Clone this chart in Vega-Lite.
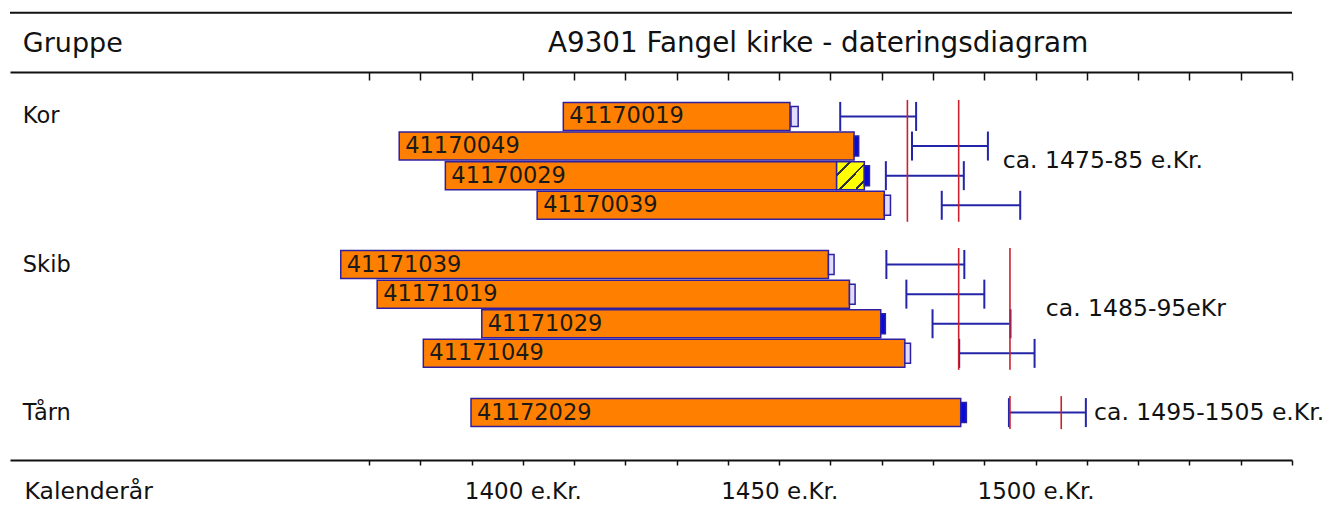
{
  "$schema": "https://vega.github.io/schema/vega-lite/v6.json",
  "width": 1282,
  "height": 388,
  "autosize": {"type": "none"},
  "padding": {"left": 10, "top": 72, "right": 39, "bottom": 55},
  "background": "white",
  "config": {"view": {"stroke": null}, "text": {"font": "DejaVu Sans"}},
  "datasets": {
    "samples": [
      {"id": "41170019", "group": "Kor", "row": 0, "start": 1407.9, "end": 1452.1, "sap": null, "capStart": 1452.3, "capEnd": 1453.7, "cap": "open", "lo": 1461.9, "hi": 1476.7},
      {"id": "41170049", "group": "Kor", "row": 1, "start": 1375.9, "end": 1464.6, "sap": null, "capStart": 1464.6, "capEnd": 1465.5, "cap": "solid", "lo": 1475.9, "hi": 1490.7},
      {"id": "41170029", "group": "Kor", "row": 2, "start": 1384.9, "end": 1461.2, "sap": 1466.6, "capStart": 1466.6, "capEnd": 1467.6, "cap": "solid", "lo": 1470.8, "hi": 1486.0},
      {"id": "41170039", "group": "Kor", "row": 3, "start": 1402.8, "end": 1470.5, "sap": null, "capStart": 1470.5, "capEnd": 1471.7, "cap": "open", "lo": 1481.7, "hi": 1497.0},
      {"id": "41171039", "group": "Skib", "row": 5, "start": 1364.5, "end": 1459.6, "sap": null, "capStart": 1459.6, "capEnd": 1460.7, "cap": "open", "lo": 1470.9, "hi": 1486.1},
      {"id": "41171019", "group": "Skib", "row": 6, "start": 1371.6, "end": 1463.7, "sap": null, "capStart": 1463.7, "capEnd": 1464.8, "cap": "open", "lo": 1474.8, "hi": 1490.0},
      {"id": "41171029", "group": "Skib", "row": 7, "start": 1392.0, "end": 1469.8, "sap": null, "capStart": 1469.8, "capEnd": 1470.7, "cap": "solid", "lo": 1479.9, "hi": 1495.1},
      {"id": "41171049", "group": "Skib", "row": 8, "start": 1380.6, "end": 1474.5, "sap": null, "capStart": 1474.5, "capEnd": 1475.6, "cap": "open", "lo": 1485.1, "hi": 1499.8},
      {"id": "41172029", "group": "Tårn", "row": 10, "start": 1389.9, "end": 1485.4, "sap": null, "capStart": 1485.4, "capEnd": 1486.5, "cap": "solid", "lo": 1494.8, "hi": 1509.8}
    ],
    "redlines": [
      {"group": "Kor", "year": 1475, "first": 0, "last": 3},
      {"group": "Kor", "year": 1485, "first": 0, "last": 3},
      {"group": "Skib", "year": 1485, "first": 5, "last": 8},
      {"group": "Skib", "year": 1495, "first": 5, "last": 8},
      {"group": "Tårn", "year": 1495, "first": 10, "last": 10},
      {"group": "Tårn", "year": 1505, "first": 10, "last": 10}
    ],
    "groups": [
      {"group": "Kor", "row": 0},
      {"group": "Skib", "row": 5},
      {"group": "Tårn", "row": 10}
    ],
    "annotations": [
      {"text": "ca. 1475-85 e.Kr.", "year": 1493.6, "row": 1.5},
      {"text": "ca. 1485-95eKr", "year": 1502.0, "row": 6.5},
      {"text": "ca. 1495-1505 e.Kr.", "year": 1511.4, "row": 10}
    ],
    "header": [
      {"text": "Gruppe", "year": 1302.5, "row": -2.45, "size": "small"},
      {"text": "A9301 Fangel kirke - dateringsdiagram", "year": 1404.9, "row": -2.45, "size": "large"}
    ]
  },
  "resolve": {"axis": {"x": "independent"}},
  "layer": [
    {
      "data": {"name": "samples"},
      "mark": {"type": "rect", "yOffset": -14, "y2Offset": 14, "fill": "#ff8000", "stroke": "#3020a0", "strokeWidth": 1.5},
      "encoding": {
        "x": {"field": "start", "type": "quantitative",
          "scale": {"domain": [1300, 1550], "nice": false, "zero": false},
          "axis": {"orient": "bottom", "values": [1370, 1380, 1390, 1400, 1410, 1420, 1430, 1440, 1450, 1460, 1470, 1480, 1490, 1500, 1510, 1520, 1530, 1540, 1550],
            "grid": false, "domainColor": "#111", "domainWidth": 2, "tickColor": "#111", "tickWidth": 1.5, "tickSize": 5,
            "labelExpr": "(datum.value == 1400 || datum.value == 1450 || datum.value == 1500) ? datum.value + ' e.Kr.' : ''",
            "labelFont": "DejaVu Sans", "labelFontSize": 23, "labelColor": "#111", "labelPadding": 26, "labelBaseline": "middle", "labelOverlap": false, "labelFlush": false,
            "title": "Kalenderår", "titleX": 14, "titleY": 31, "titleAlign": "left", "titleAnchor": "start", "titleBaseline": "middle", "titleAngle": 0,
            "titleFont": "DejaVu Sans", "titleFontSize": 23.5, "titleFontWeight": "normal", "titleColor": "#111"}},
        "x2": {"field": "end"},
        "y": {"field": "row", "type": "quantitative", "scale": {"domain": [-1.5, 11.6], "reverse": true, "nice": false, "zero": false}, "axis": null},
        "y2": {"field": "row"}
      }
    },
    {
      "data": {"name": "samples"},
      "transform": [{"filter": "datum.sap != null"}],
      "mark": {"type": "rect", "yOffset": -14, "y2Offset": 14, "stroke": "#3020a0", "strokeWidth": 1.5,
        "fill": {"gradient": "linear", "x1": 0, "y1": 0, "x2": 1, "y2": 1, "stops": [
          {"offset": 0, "color": "#ffff00"}, {"offset": 0.22, "color": "#ffff00"}, {"offset": 0.22, "color": "#333"}, {"offset": 0.27, "color": "#333"}, {"offset": 0.27, "color": "#ffff00"},
          {"offset": 0.52, "color": "#ffff00"}, {"offset": 0.52, "color": "#333"}, {"offset": 0.57, "color": "#333"}, {"offset": 0.57, "color": "#ffff00"},
          {"offset": 0.82, "color": "#ffff00"}, {"offset": 0.82, "color": "#333"}, {"offset": 0.87, "color": "#333"}, {"offset": 0.87, "color": "#ffff00"}, {"offset": 1, "color": "#ffff00"}]}},
      "encoding": {
        "x": {"field": "end", "type": "quantitative", "scale": {"domain": [1300, 1550], "nice": false, "zero": false}, "axis": null},
        "x2": {"field": "sap"},
        "y": {"field": "row", "type": "quantitative", "scale": {"domain": [-1.5, 11.6], "reverse": true, "nice": false, "zero": false}, "axis": null},
        "y2": {"field": "row"}
      }
    },
    {
      "data": {"name": "samples"},
      "mark": {"type": "rect", "yOffset": -10, "y2Offset": 10, "stroke": "#2a22a0", "strokeWidth": 1.5},
      "encoding": {
        "x": {"field": "capStart", "type": "quantitative", "scale": {"domain": [1300, 1550], "nice": false, "zero": false}, "axis": null},
        "x2": {"field": "capEnd"},
        "y": {"field": "row", "type": "quantitative", "scale": {"domain": [-1.5, 11.6], "reverse": true, "nice": false, "zero": false}, "axis": null},
        "y2": {"field": "row"},
        "fill": {"field": "cap", "type": "nominal", "scale": {"domain": ["solid", "open"], "range": ["#0a0ad8", "#e4dcff"]}, "legend": null}
      }
    },
    {
      "data": {"name": "samples"},
      "mark": {"type": "text", "align": "left", "baseline": "middle", "dx": 6, "font": "DejaVu Sans", "fontSize": 22.5, "color": "#1a1a1a"},
      "encoding": {
        "x": {"field": "start", "type": "quantitative", "scale": {"domain": [1300, 1550], "nice": false, "zero": false}, "axis": null},
        "y": {"field": "row", "type": "quantitative", "scale": {"domain": [-1.5, 11.6], "reverse": true, "nice": false, "zero": false}, "axis": null},
        "text": {"field": "id"}
      }
    },
    {
      "data": {"name": "samples"},
      "mark": {"type": "rule", "color": "#2424a8", "strokeWidth": 2},
      "encoding": {
        "x": {"field": "lo", "type": "quantitative", "scale": {"domain": [1300, 1550], "nice": false, "zero": false},
          "axis": {"orient": "top", "values": [1370, 1380, 1390, 1400, 1410, 1420, 1430, 1440, 1450, 1460, 1470, 1480, 1490, 1500, 1510, 1520, 1530, 1540, 1550],
            "grid": false, "domainColor": "#111", "domainWidth": 2, "tickColor": "#111", "tickWidth": 1.5, "tickSize": -8, "labels": false, "title": null}},
        "x2": {"field": "hi"},
        "y": {"field": "row", "type": "quantitative", "scale": {"domain": [-1.5, 11.6], "reverse": true, "nice": false, "zero": false}, "axis": null}
      }
    },
    {
      "data": {"name": "samples"},
      "mark": {"type": "rule", "color": "#2424a8", "strokeWidth": 2, "yOffset": -14.5, "y2Offset": 14.5},
      "encoding": {
        "x": {"field": "lo", "type": "quantitative", "scale": {"domain": [1300, 1550], "nice": false, "zero": false}, "axis": null},
        "y": {"field": "row", "type": "quantitative", "scale": {"domain": [-1.5, 11.6], "reverse": true, "nice": false, "zero": false}, "axis": null},
        "y2": {"field": "row"}
      }
    },
    {
      "data": {"name": "samples"},
      "mark": {"type": "rule", "color": "#2424a8", "strokeWidth": 2, "yOffset": -14.5, "y2Offset": 14.5},
      "encoding": {
        "x": {"field": "hi", "type": "quantitative", "scale": {"domain": [1300, 1550], "nice": false, "zero": false}, "axis": null},
        "y": {"field": "row", "type": "quantitative", "scale": {"domain": [-1.5, 11.6], "reverse": true, "nice": false, "zero": false}, "axis": null},
        "y2": {"field": "row"}
      }
    },
    {
      "data": {"name": "redlines"},
      "mark": {"type": "rule", "color": "#cc2030", "strokeWidth": 1.6, "yOffset": -16.5, "y2Offset": 16.5},
      "encoding": {
        "x": {"field": "year", "type": "quantitative", "scale": {"domain": [1300, 1550], "nice": false, "zero": false}, "axis": null},
        "y": {"field": "first", "type": "quantitative", "scale": {"domain": [-1.5, 11.6], "reverse": true, "nice": false, "zero": false}, "axis": null},
        "y2": {"field": "last"}
      }
    },
    {
      "data": {"name": "groups"},
      "mark": {"type": "text", "align": "left", "baseline": "middle", "font": "DejaVu Sans", "fontSize": 22.5, "color": "#111"},
      "encoding": {
        "x": {"datum": 1302.5, "type": "quantitative", "scale": {"domain": [1300, 1550], "nice": false, "zero": false}, "axis": null},
        "y": {"field": "row", "type": "quantitative", "scale": {"domain": [-1.5, 11.6], "reverse": true, "nice": false, "zero": false}, "axis": null},
        "text": {"field": "group"}
      }
    },
    {
      "data": {"name": "annotations"},
      "mark": {"type": "text", "align": "left", "baseline": "middle", "font": "DejaVu Sans", "fontSize": 23.5, "color": "#111"},
      "encoding": {
        "x": {"field": "year", "type": "quantitative", "scale": {"domain": [1300, 1550], "nice": false, "zero": false}, "axis": null},
        "y": {"field": "row", "type": "quantitative", "scale": {"domain": [-1.5, 11.6], "reverse": true, "nice": false, "zero": false}, "axis": null},
        "text": {"field": "text"}
      }
    },
    {
      "data": {"name": "header"},
      "mark": {"type": "text", "align": "left", "baseline": "middle", "font": "DejaVu Sans", "color": "#111"},
      "encoding": {
        "x": {"field": "year", "type": "quantitative", "scale": {"domain": [1300, 1550], "nice": false, "zero": false}, "axis": null},
        "y": {"field": "row", "type": "quantitative", "scale": {"domain": [-1.5, 11.6], "reverse": true, "nice": false, "zero": false}, "axis": null},
        "text": {"field": "text"},
        "size": {"field": "size", "type": "nominal", "scale": {"domain": ["small", "large"], "range": [27, 27.8]}, "legend": null}
      }
    },
    {
      "data": {"values": [{}]},
      "mark": {"type": "rule", "color": "#111", "strokeWidth": 2},
      "encoding": {
        "y": {"datum": -3.5, "type": "quantitative", "scale": {"domain": [-1.5, 11.6], "reverse": true, "nice": false, "zero": false}, "axis": null}
      }
    }
  ]
}
